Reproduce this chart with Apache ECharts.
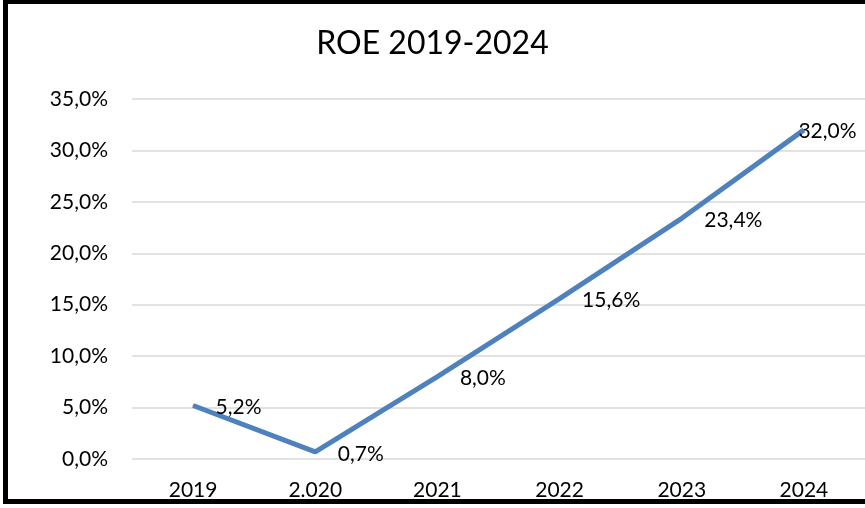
<!DOCTYPE html>
<html>
<head>
<meta charset="utf-8">
<script src="https://cdn.jsdelivr.net/npm/echarts@6/dist/echarts.min.js"></script>
<style>
html,body{margin:0;padding:0;background:#fff;}
#chart{width:865px;height:508px;}
</style>
</head>
<body>
<div id="chart"></div>
<script>
const titleText = 'ROE 2019-2024';
const categories = ['2019', '2.020', '2021', '2022', '2023', '2024'];
const roeValues = [5.2, 0.7, 8.0, 15.6, 23.4, 32.0];
const yMin = 0, yMax = 35, yStep = 5;

const fmt = v => Number(v).toFixed(1).replace('.', ',') + '%';
const FONT = 'Lato';

const seriesData = roeValues.map((v, i) => {
  const item = { value: v };
  if (i === roeValues.length - 1) {
    item.label = { offset: [-28, 1] };
  }
  return item;
});

const chart = echarts.init(document.getElementById('chart'), null, { renderer: 'canvas' });
chart.setOption({
  animation: false,
  backgroundColor: '#ffffff',
  title: {
    text: titleText,
    left: 'center',
    top: 23,
    textStyle: { fontFamily: FONT, fontSize: 32, fontWeight: 'normal', color: '#000000' }
  },
  grid: { left: 132, top: 99, bottom: 49, width: 736 },
  xAxis: {
    type: 'category',
    data: categories,
    boundaryGap: true,
    axisLine: { show: false },
    axisTick: { show: false },
    axisLabel: { fontFamily: FONT, fontSize: 21, color: '#000000', margin: 21 }
  },
  yAxis: {
    type: 'value',
    min: yMin, max: yMax, interval: yStep,
    axisLine: { show: false },
    axisTick: { show: false },
    splitLine: { lineStyle: { color: '#D9D9D9', width: 1.5 } },
    axisLabel: { fontFamily: FONT, fontSize: 21, color: '#000000', margin: 24, formatter: fmt }
  },
  graphic: [{
    type: 'rect',
    shape: { x: 5.5, y: 1.5, width: 900, height: 500 },
    style: { fill: 'none', stroke: '#000000', lineWidth: 5 },
    silent: true, z: 100
  }],
  series: [{
    type: 'line',
    data: seriesData,
    showSymbol: true,
    symbol: 'circle',
    symbolSize: 1,
    itemStyle: { color: '#4F81BD' },
    lineStyle: { color: '#4F81BD', width: 5 },
    label: {
      show: true,
      position: 'right',
      distance: 22,
      offset: [0, 2],
      fontFamily: FONT,
      fontSize: 21,
      color: '#000000',
      formatter: p => fmt(p.value)
    }
  }]
});
</script>
</body>
</html>
